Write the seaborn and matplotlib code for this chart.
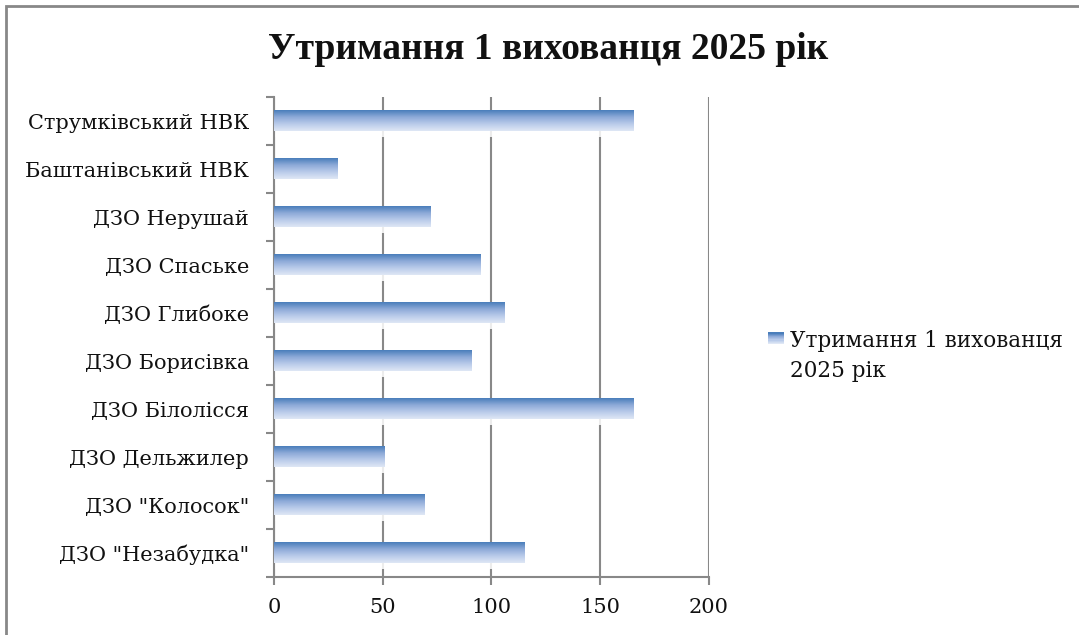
import numpy as np
import matplotlib
matplotlib.use("Agg")
import matplotlib.pyplot as plt
import seaborn as sns
from matplotlib.colors import LinearSegmentedColormap
from matplotlib.patches import Rectangle
from matplotlib.legend_handler import HandlerBase

# Data
institutions = [
    "Струмківський НВК",
    "Баштанівський НВК",
    "ДЗО Нерушай",
    "ДЗО Спаське",
    "ДЗО Глибоке",
    "ДЗО Борисівка",
    "ДЗО Білолісся",
    "ДЗО Дельжилер",
    'ДЗО "Колосок"',
    'ДЗО "Незабудка"',
]
cost_per_child = [165.5, 29, 72, 95, 106, 91, 165.5, 51, 69, 115]
x_ticks = [0, 50, 100, 150, 200]
chart_title = "Утримання 1 вихованця 2025 рік"
series_label = "Утримання 1 вихованця\n2025 рік"

sns.set_theme(style="white")
plt.rcParams["font.family"] = ["DejaVu Serif"]

AXIS_GREY = "#888888"
TEXT_SIZE = 15
bar_cmap = LinearSegmentedColormap.from_list(
    "bar_grad", ["#4a7ebb", "#8eaad8", "#b9cbea", "#dfe7f5"]
)
gradient = np.linspace(0, 1, 64).reshape(-1, 1)

fig = plt.figure(figsize=(10.79, 6.35), dpi=100)
ax = fig.add_axes([0.254, 0.091, 0.403, 0.756])

sns.barplot(x=cost_per_child, y=institutions, orient="h", width=0.42,
            color="#4a7ebb", ax=ax, zorder=3)

# Replace flat fills with a vertical blue gradient
for p in ax.patches:
    x0, y0 = p.get_x(), p.get_y()
    w, h = p.get_width(), p.get_height()
    ax.imshow(gradient, cmap=bar_cmap, aspect="auto", interpolation="bilinear",
              extent=(x0, x0 + w, y0 + h, y0), origin="upper", zorder=3)
    # soft white halo just below each bar
    ax.add_patch(Rectangle((x0, y0 + h), w + 1.5, 0.12, facecolor="white",
                           edgecolor="none", alpha=0.85, zorder=2.5))
    p.set_visible(False)

ax.set_xlim(0, 200)
ax.set_ylim(len(institutions) - 0.5, -0.5)
ax.set_xticks(x_ticks)
ax.set_xticklabels([str(t) for t in x_ticks])
ax.set_xlabel("")
ax.set_ylabel("")

# Vertical gridlines
ax.xaxis.grid(True, color=AXIS_GREY, linewidth=1.5, zorder=1)
ax.yaxis.grid(False)
ax.set_axisbelow(True)

for side in ["top", "right"]:
    ax.spines[side].set_visible(False)
for side in ["left", "bottom"]:
    ax.spines[side].set_color(AXIS_GREY)
    ax.spines[side].set_linewidth(1.5)

# Category ticks sit between the bars
ax.set_yticks(np.arange(-0.5, len(institutions), 1.0), minor=True)
ax.tick_params(axis="y", which="major", length=0, pad=18, labelsize=TEXT_SIZE,
               labelcolor="#111111")
ax.tick_params(axis="y", which="minor", length=6, width=1.5, color=AXIS_GREY,
               direction="out", left=True)
ax.tick_params(axis="x", which="major", length=6, width=1.5, color=AXIS_GREY,
               direction="out", bottom=True, pad=9, labelsize=TEXT_SIZE,
               labelcolor="#111111")

fig.text(0.508, 0.922, chart_title, ha="center", va="center",
         fontsize=27, fontweight="bold", color="#111111",
         family=["Liberation Serif", "DejaVu Serif"])


class GradientHandler(HandlerBase):
    def create_artists(self, legend, orig_handle, xdescent, ydescent,
                       width, height, fontsize, trans):
        n = 10
        lift = 0.85 * fontsize  # align the swatch with the first text line
        artists = []
        for i in range(n):
            c = bar_cmap(i / (n - 1))
            r = Rectangle((-xdescent,
                           -ydescent + lift + height * (1 - (i + 1) / n)),
                          width, height / n, facecolor=c, edgecolor="none",
                          transform=trans)
            artists.append(r)
        return artists


handle = Rectangle((0, 0), 1, 1)
leg = fig.legend([handle], [series_label],
                 handler_map={Rectangle: GradientHandler()},
                 loc="upper left", bbox_to_anchor=(0.6935, 0.511),
                 frameon=False, fontsize=TEXT_SIZE + 0.5, handlelength=0.75,
                 handleheight=0.45, handletextpad=0.3, labelspacing=0.2)
for t in leg.get_texts():
    t.set_color("#111111")
    t.set_linespacing(1.45)

# Outer chart border
fig.patches.append(Rectangle((6 / 1079, -0.1), 1.2, 1 - 6 / 635 + 0.1,
                             transform=fig.transFigure, fill=False,
                             edgecolor=AXIS_GREY, linewidth=2))

fig.savefig("out.png", dpi=100)
